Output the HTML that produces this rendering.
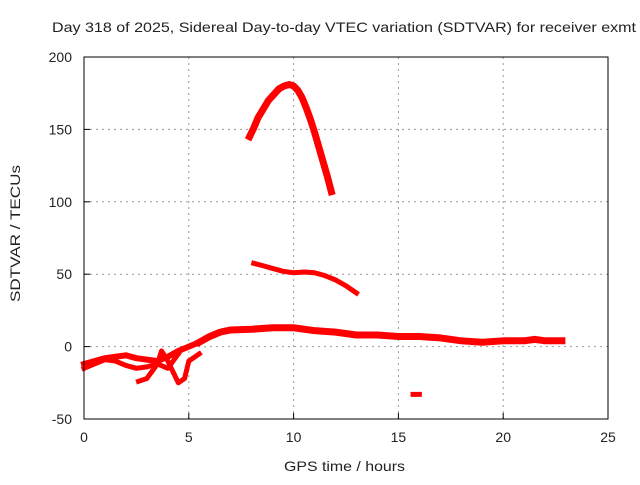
<!DOCTYPE html>
<html><head><meta charset="utf-8"><style>
body{margin:0;background:#fff}
svg text{font-family:"Liberation Sans",sans-serif;font-size:14px;fill:#222}
</style></head><body>
<svg id="c" width="640" height="480">
<text x="52" y="32" textLength="584" lengthAdjust="spacingAndGlyphs">Day 318 of 2025, Sidereal Day-to-day VTEC variation (SDTVAR) for receiver exmt</text>
<text x="284" y="471" textLength="121" lengthAdjust="spacingAndGlyphs">GPS time / hours</text>
<text transform="translate(20,302) rotate(-90)" textLength="137" lengthAdjust="spacingAndGlyphs">SDTVAR / TECUs</text>
<g id="grid"></g><g id="marks"></g>
<rect x="84" y="57" width="524" height="362" fill="none" stroke="#000" stroke-width="1"/>
</svg>
<script>
const xTicks=[0,5,10,15,20,25];
const yTicks=[-50,0,50,100,150,200];
const arcT=[7.9,8.1,8.3,8.55,8.8,9.05,9.3,9.55,9.8,10.0,10.2,10.4,10.6,10.8,11.0,11.2,11.4,11.6,11.8];
const arcV=[145,151,158,164,170,174,178,180,181,180,177,172,165,157,148,138,128,118,107];
const midT=[8.1,8.5,9,9.5,10,10.5,11,11.5,12,12.5,13];
const midV=[57.5,56,54,52,51,51.5,51,49,46,42,37];
const mainT=[5.5,6,6.5,7,8,9,10,11,12,13,14,15,16,17,18,19,20,21,21.5,22,22.8];
const mainV=[3,7,10,11.5,12,13,13,11,10,8,8,7,7,6,4,3,4,4,5,4,4];
const lowAT=[0,0.5,1,1.5,2,2.5,3,3.5,4,4.5,5,5.5];
const lowAV=[-12,-10,-8,-7,-6,-8,-9,-10,-7,-3,0,3];
const lowBT=[0,0.5,1,1.5,2,2.5,3,3.5,4,4.5];
const lowBV=[-15,-12,-9,-10,-13,-15,-14,-12,-15,-5];
const lowCT=[2.6,3,3.5,3.7,4,4.5,4.8,5,5.5];
const lowCV=[-24,-22,-12,-3,-10,-25,-22,-10,-5];
const outT=[15.7,16.0];
const outV=[-33,-33];
const X=h=>84+h*524/25, Y=v=>346.6-v*362/250;
const NS='http://www.w3.org/2000/svg';
const g=document.getElementById('grid'), m=document.getElementById('marks'), svg=document.getElementById('c');
function el(t,a,p){const e=document.createElementNS(NS,t);for(const k in a)e.setAttribute(k,a[k]);p.appendChild(e);return e;}
xTicks.forEach(t=>{
 if(t>0&&t<25){const l=el('line',{x1:X(t),x2:X(t),y1:57,y2:419,stroke:'#999','stroke-dasharray':'2,4'},g);
 
 }
 const tx=el('text',{x:X(t),y:442,'text-anchor':'middle'},svg);tx.textContent=t;
 
 
 el('line',{x1:X(t),x2:X(t),y1:419,y2:413,stroke:'#000'},svg);
});
yTicks.forEach(t=>{
 if(t>-50&&t<200){const l=el('line',{x1:84,x2:608,y1:Y(t),y2:Y(t),stroke:'#999','stroke-dasharray':'2,4'},g);
 
 }
 const tx=el('text',{x:72,y:Y(t)+5,'text-anchor':'end'},svg);tx.textContent=t;
 
 
 el('line',{x1:84,x2:90,y1:Y(t),y2:Y(t),stroke:'#000'},svg);
});
const series=[['arc-series',arcT,arcV,7],['mid-series',midT,midV,5],['main-series',mainT,mainV,7],['low-a-series',lowAT,lowAV,6],['low-b-series',lowBT,lowBV,5],['low-c-series',lowCT,lowCV,5],['outlier-series',outT,outV,5]];
series.forEach(s=>{
 const pts=s[1].map((t,i)=>X(t)+','+Y(s[2][i])).join(' ');
 const p=el('polyline',{points:pts,fill:'none',stroke:'#f00','stroke-width':s[3],'stroke-linejoin':'round','stroke-linecap':'square'},m);
 
 
});
</script>
</body></html>
